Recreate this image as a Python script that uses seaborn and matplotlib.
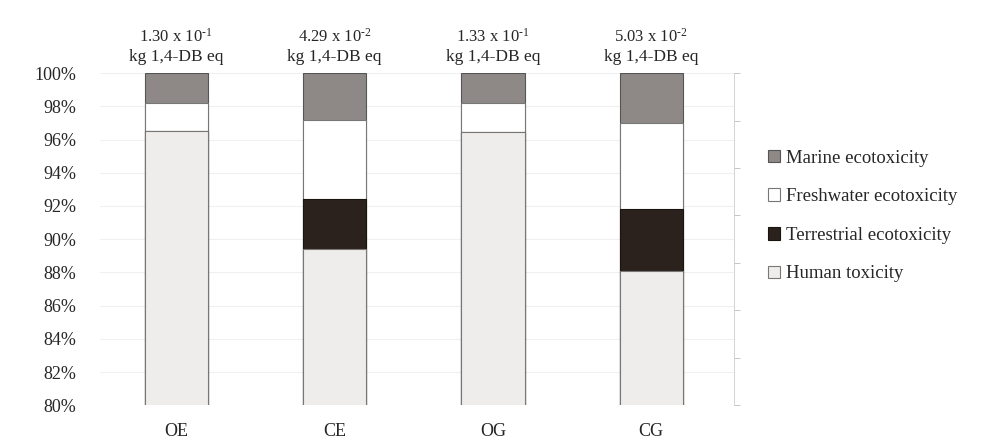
import seaborn as sns
import matplotlib.pyplot as plt
import matplotlib.patches as mpatches
import pandas as pd

# values (% of total toxicity)
scenarios = ['OE', 'CE', 'OG', 'CG']
human = [96.5, 89.4, 96.45, 88.1]
terrestrial = [0.02, 3.0, 0.02, 3.7]
freshwater = [1.68, 4.75, 1.73, 5.2]
marine = [1.8, 2.85, 1.8, 3.0]
totals = [r'1.30 x 10$^{\text{-1}}$', r'4.29 x 10$^{\text{-2}}$',
          r'1.33 x 10$^{\text{-1}}$', r'5.03 x 10$^{\text{-2}}$']
unit = 'kg 1,4-DB eq'

categories = ['Marine ecotoxicity', 'Freshwater ecotoxicity', 'Terrestrial ecotoxicity', 'Human toxicity']
colors = ['#8e8986', '#ffffff', '#2b221e', '#efedec']
edges = ['#555555', '#777777', '#1a1410', '#777777']

sns.set_style('white')
plt.rcParams['font.family'] = ['Liberation Serif', 'DejaVu Serif']
plt.rcParams['mathtext.fontset'] = 'custom'
plt.rcParams['mathtext.rm'] = 'Liberation Serif'
plt.rcParams['mathtext.it'] = 'Liberation Serif:italic'
plt.rcParams['mathtext.bf'] = 'Liberation Serif:bold'

df = pd.DataFrame({'scenario': scenarios, 'human': human, 'terrestrial': terrestrial,
                   'freshwater': freshwater, 'marine': marine})
# cumulative heights, drawn largest first so the smaller ones sit on top
df['c_human'] = df['human']
df['c_terr'] = df['c_human'] + df['terrestrial']
df['c_fresh'] = df['c_terr'] + df['freshwater']
df['c_marine'] = df['c_fresh'] + df['marine']

fig = plt.figure(figsize=[9.82, 4.43], dpi=100)
ax = fig.add_axes([0.102, 0.085, 0.645, 0.75])

for col, c, e in zip(['c_marine', 'c_fresh', 'c_terr', 'c_human'], colors, edges):
    sns.barplot(data=df, x='scenario', y=col, color=c, width=0.4, ax=ax,
                edgecolor=e, linewidth=0.8, saturation=1)

ax.set_ylim(80, 100)
ax.set_xlim(-0.48, 3.52)
ax.set_yticks(range(80, 101, 2))
ax.set_yticklabels([f'{v}%' for v in range(80, 101, 2)])
ax.set(xlabel='', ylabel='')
ax.yaxis.grid(True, color='#f0f0f0', linewidth=0.8)
ax.set_axisbelow(True)
ax.tick_params(axis='y', length=0, pad=17, labelsize=13)
ax.tick_params(axis='x', length=0, pad=13, labelsize=13)
for s in ['top', 'right', 'left', 'bottom']:
    ax.spines[s].set_visible(False)

for i, t in enumerate(totals):
    ax.text(i, 1.108, t, transform=ax.get_xaxis_transform(), ha='center', va='center', fontsize=12)
    ax.text(i, 1.047, unit, transform=ax.get_xaxis_transform(), ha='center', va='center', fontsize=12.5)

# faint secondary axis on the right
ax2 = ax.twinx()
ax2.set_ylim(0, 7)
ax2.set_yticks(range(8))
ax2.set_yticklabels([])
ax2.tick_params(axis='y', length=4, color='#bbbbbb', width=0.6)
for s in ['top', 'left', 'bottom']:
    ax2.spines[s].set_visible(False)
ax2.spines['right'].set_color('#cccccc')
ax2.spines['right'].set_linewidth(0.6)

handles = [mpatches.Patch(facecolor=c, edgecolor=e, linewidth=0.8, label=l)
           for c, e, l in zip(colors, edges, categories)]
fig.legend(handles=handles, loc='upper left', bbox_to_anchor=(0.765, 0.70), frameon=False,
           fontsize=13.5, handlelength=0.65, handleheight=0.65, handletextpad=0.3, labelspacing=1.15)

plt.savefig('out.png', dpi=100)
